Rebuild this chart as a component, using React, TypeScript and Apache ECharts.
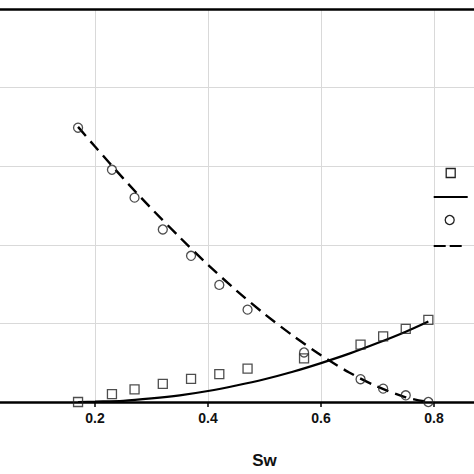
import { useEffect, useRef } from 'react';
import * as echarts from 'echarts';

// measured points
const swExp = [0.17, 0.23, 0.27, 0.32, 0.37, 0.42, 0.47, 0.57, 0.67, 0.71, 0.75, 0.79];
const krwExp = [0, 0.02, 0.032, 0.046, 0.059, 0.071, 0.085, 0.111, 0.146, 0.167, 0.186, 0.209];
const kroExp = [0.698, 0.591, 0.52, 0.439, 0.372, 0.298, 0.235, 0.126, 0.058, 0.034, 0.017, 0];

// fitted curves
const swModel = [0.17, 0.2, 0.25, 0.3, 0.35, 0.4, 0.45, 0.5, 0.55, 0.6, 0.65, 0.7, 0.75, 0.79];
const krwModel = [0, 0.001, 0.003, 0.009, 0.017, 0.028, 0.042, 0.058, 0.077, 0.099, 0.123, 0.15, 0.179, 0.205];
const kroModel = [0.7, 0.65, 0.569, 0.492, 0.419, 0.349, 0.284, 0.224, 0.169, 0.119, 0.075, 0.039, 0.012, 0];

const seriesNames = ['krw exp', 'krw model', 'kro exp', 'kro model'];

const FONT = '"Liberation Sans", Arial, sans-serif';
// the plot is wider than the picture: x = 0 and x = 1 lie outside it
const SHIFT = 20.7;
const CHART_W = 571.1;

export default function App() {
  const chartRef = useRef<HTMLDivElement>(null);

  useEffect(() => {
    if (!chartRef.current) return;
    const chart = echarts.init(chartRef.current, undefined, { renderer: 'svg' });

    const pairs = (xs: number[], ys: number[]) => xs.map((x, i) => [x, ys[i]]);
    const lx = 434 + SHIFT;
    const markStyle = { fill: 'none', stroke: '#222', lineWidth: 1.3 };

    const option: echarts.EChartsOption = {
      animation: false,
      backgroundColor: '#fff',
      grid: {
        left: 0,
        right: 0,
        top: 9,
        bottom: 67,
      },
      // legend, its labels fall outside the picture like in the original
      graphic: [
        { type: 'rect', shape: { x: lx + 12.5, y: 168.5, width: 9, height: 9 }, style: markStyle, z: 10 },
        { type: 'line', shape: { x1: lx, y1: 197, x2: lx + 34, y2: 197 }, style: { stroke: '#000', lineWidth: 2 }, z: 10 },
        { type: 'circle', shape: { cx: lx + 16, cy: 220, r: 4.5 }, style: markStyle, z: 10 },
        { type: 'line', shape: { x1: lx, y1: 246, x2: lx + 28, y2: 246 }, style: { stroke: '#000', lineWidth: 2.2, lineDash: [12, 4] }, z: 10 },
      ],
      xAxis: [
        {
          type: 'value',
          min: 0,
          max: 1,
          interval: 0.2,
          name: 'Sw',
          nameLocation: 'middle',
          nameGap: 50,
          nameTextStyle: { fontFamily: FONT, fontSize: 17, fontWeight: 'bold', color: '#111' },
          axisLine: { show: true, onZero: false, lineStyle: { color: '#000', width: 2.5 } },
          axisTick: { show: true, inside: false, length: 5, lineStyle: { color: '#000', width: 1.5 } },
          axisLabel: {
            margin: 9,
            fontFamily: FONT,
            fontSize: 14,
            fontWeight: 'bold',
            color: '#111',
            formatter: (v: number) => (v > 0 && v < 1 ? v.toFixed(1) : ''),
          },
          splitLine: { show: true, lineStyle: { color: '#d9d9d9', width: 1 } },
        },
        {
          // top frame line
          type: 'value',
          position: 'top',
          min: 0,
          max: 1,
          interval: 0.2,
          axisLine: { show: true, onZero: false, lineStyle: { color: '#000', width: 2.5 } },
          axisTick: { show: false },
          axisLabel: { show: false },
          splitLine: { show: false },
        },
      ],
      yAxis: {
        type: 'value',
        min: 0,
        max: 1,
        interval: 0.2,
        axisLine: { show: false },
        axisTick: { show: false },
        axisLabel: { show: false },
        splitLine: { show: true, lineStyle: { color: '#d9d9d9', width: 1 } },
      },
      series: [
        {
          name: seriesNames[0],
          type: 'scatter',
          symbol: 'rect',
          symbolSize: 9,
          itemStyle: { color: 'rgba(255,255,255,0)', borderColor: '#222', borderWidth: 1.3 },
          data: pairs(swExp, krwExp),
          z: 3,
        },
        {
          name: seriesNames[1],
          type: 'line',
          symbol: 'none',
          smooth: 0.3,
          lineStyle: { color: '#000', width: 2.2 },
          data: pairs(swModel, krwModel),
          z: 2,
        },
        {
          name: seriesNames[2],
          type: 'scatter',
          symbol: 'circle',
          symbolSize: 9,
          itemStyle: { color: 'rgba(255,255,255,0)', borderColor: '#222', borderWidth: 1.3 },
          data: pairs(swExp, kroExp),
          z: 3,
        },
        {
          name: seriesNames[3],
          type: 'line',
          symbol: 'none',
          smooth: 0.3,
          lineStyle: { color: '#000', width: 2.4, type: [12, 7] },
          data: pairs(swModel, kroModel),
          z: 2,
        },
      ],
    };

    chart.setOption(option);

    return () => {
      chart.dispose();
    };
  }, []);

  return (
    <div style={{ position: 'fixed', left: 0, top: 0, width: 474, height: 474, overflow: 'hidden', background: '#fff' }}>
      <div ref={chartRef} style={{ position: 'absolute', left: -SHIFT, top: 0, width: CHART_W, height: 474 }}></div>
    </div>
  );
}
